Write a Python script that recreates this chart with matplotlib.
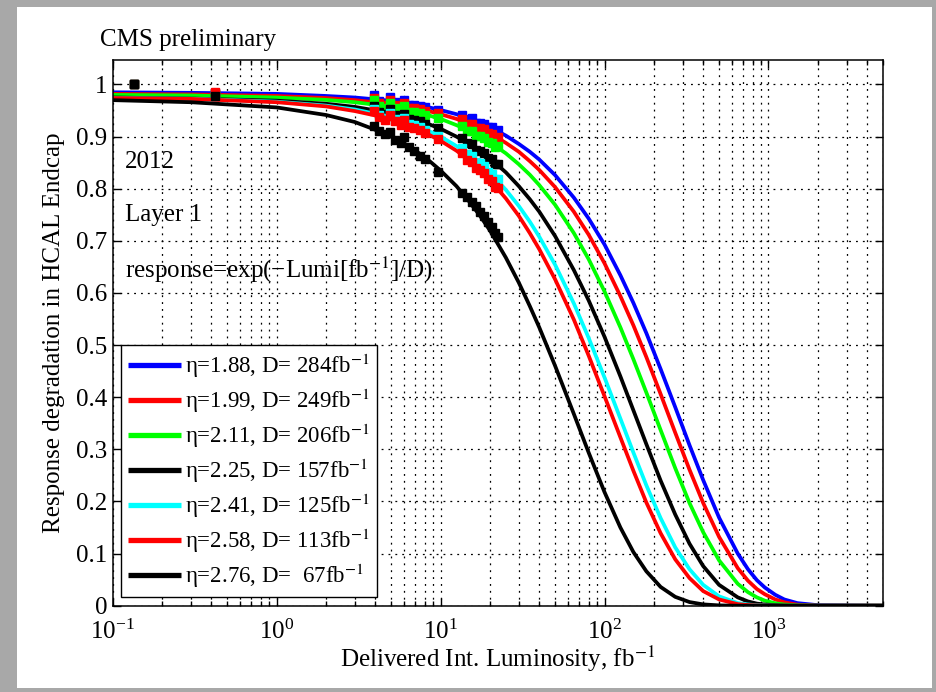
import matplotlib
matplotlib.use("Agg")
import matplotlib.pyplot as plt
from matplotlib.patches import Rectangle
from matplotlib.ticker import LogLocator, FixedLocator, FuncFormatter

plt.rcParams['font.family'] = ['Liberation Serif', 'DejaVu Serif']
plt.rcParams['mathtext.fontset'] = 'stix'
plt.rcParams['font.size'] = 18

# fit curves at these luminosities (fb^-1)
FIT_LUMI = [0.1, 0.3, 1, 2, 3, 4.5, 6, 8, 10, 12.5, 15, 17.5, 20, 25, 30, 35, 40, 50, 65, 80,
            100, 125, 150, 180, 220, 270, 330, 400, 500, 650, 750, 850, 950, 1100, 1250, 1500, 2000, 5000]

FIT_188 = [0.985, 0.984, 0.982, 0.978, 0.975, 0.970, 0.964, 0.958, 0.951, 0.943, 0.934, 0.926, 0.918, 0.902,
           0.886, 0.871, 0.856, 0.826, 0.783, 0.743, 0.693, 0.634, 0.581, 0.523, 0.454, 0.381, 0.308, 0.241,
           0.169, 0.100, 0.070, 0.049, 0.035, 0.021, 0.012, 0.005, 0.001, 0.0]
FIT_199 = [0.982, 0.981, 0.978, 0.974, 0.970, 0.964, 0.959, 0.951, 0.943, 0.934, 0.925, 0.915, 0.906, 0.888,
           0.871, 0.853, 0.836, 0.803, 0.756, 0.712, 0.657, 0.594, 0.538, 0.477, 0.406, 0.332, 0.261, 0.197,
           0.132, 0.072, 0.048, 0.032, 0.022, 0.012, 0.0065, 0.002, 0.0, 0.0]
FIT_211 = [0.980, 0.979, 0.975, 0.9705, 0.966, 0.959, 0.952, 0.943, 0.934, 0.922, 0.911, 0.900, 0.889, 0.868,
           0.847, 0.827, 0.807, 0.769, 0.715, 0.665, 0.603, 0.534, 0.473, 0.409, 0.337, 0.264, 0.197, 0.141,
           0.087, 0.042, 0.026, 0.016, 0.0097, 0.0047, 0.0023, 0.0007, 0.0, 0.0]
FIT_225 = [0.975, 0.973, 0.969, 0.963, 0.957, 0.9475, 0.938, 0.927, 0.915, 0.900, 0.886, 0.872, 0.858, 0.8315,
           0.805, 0.780, 0.756, 0.709, 0.644, 0.586, 0.516, 0.440, 0.375, 0.310, 0.240, 0.175, 0.119, 0.076,
           0.040, 0.016, 0.0082, 0.004, 0.0023, 0.001, 0.0003, 0.0, 0.0, 0.0]
FIT_241 = [0.974, 0.9727, 0.967, 0.9595, 0.952, 0.9405, 0.929, 0.9146, 0.900, 0.882, 0.865, 0.848, 0.831, 0.798,
           0.767, 0.737, 0.708, 0.654, 0.580, 0.514, 0.438, 0.359, 0.294, 0.231, 0.168, 0.112, 0.070, 0.040,
           0.018, 0.005, 0.0024, 0.001, 0.0005, 0.0, 0.0, 0.0, 0.0, 0.0]
FIT_258 = [0.974, 0.9724, 0.966, 0.958, 0.949, 0.937, 0.925, 0.908, 0.892, 0.873, 0.854, 0.835, 0.817, 0.7815,
           0.748, 0.715, 0.684, 0.626, 0.549, 0.480, 0.402, 0.323, 0.259, 0.198, 0.139, 0.089, 0.053, 0.028,
           0.012, 0.003, 0.0013, 0.0005, 0.0002, 0.0, 0.0, 0.0, 0.0, 0.0]
FIT_276 = [0.970, 0.966, 0.956, 0.9415, 0.928, 0.907, 0.887, 0.861, 0.835, 0.805, 0.775, 0.747, 0.720, 0.668,
           0.620, 0.575, 0.534, 0.460, 0.368, 0.294, 0.218, 0.150, 0.103, 0.066, 0.036, 0.017, 0.007, 0.0025,
           0.0006, 0.0, 0.0, 0.0, 0.0, 0.0, 0.0, 0.0, 0.0, 0.0]

# measured points
DATA_LUMI = [0.135, 0.42, 3.9, 4.2, 4.6, 4.9, 5.3, 5.7, 6.0, 6.4, 6.9, 7.5, 8.0, 9.7,
             13.5, 14.5, 15.5, 16.5, 17.5, 18.5, 19.5, 20.5, 21.5, 22.3]

DATA_188 = [1.0, 0.983, 0.980, 0.969, 0.965, 0.976, 0.966, 0.961, 0.970, 0.961, 0.960, 0.959, 0.956, 0.952,
            0.942, 0.934, 0.935, 0.927, 0.927, 0.925, 0.918, 0.918, 0.911, 0.913]
DATA_199 = [1.0, 0.985, 0.975, 0.964, 0.960, 0.971, 0.960, 0.956, 0.965, 0.955, 0.954, 0.953, 0.949, 0.945,
            0.933, 0.924, 0.925, 0.916, 0.916, 0.914, 0.906, 0.905, 0.898, 0.900]
DATA_211 = [1.0, 0.982, 0.970, 0.958, 0.954, 0.965, 0.954, 0.949, 0.958, 0.948, 0.947, 0.945, 0.941, 0.935,
            0.921, 0.911, 0.911, 0.902, 0.901, 0.898, 0.890, 0.888, 0.880, 0.882]
DATA_225 = [1.0, 0.980, 0.959, 0.947, 0.943, 0.953, 0.942, 0.936, 0.944, 0.934, 0.932, 0.930, 0.925, 0.917,
            0.898, 0.887, 0.885, 0.875, 0.873, 0.869, 0.859, 0.857, 0.847, 0.848]
DATA_241 = [1.0, 0.979, 0.953, 0.941, 0.936, 0.946, 0.934, 0.928, 0.935, 0.924, 0.922, 0.918, 0.913, 0.902,
            0.878, 0.866, 0.863, 0.851, 0.849, 0.843, 0.832, 0.829, 0.818, 0.818]
DATA_258 = [1.0, 0.983, 0.950, 0.937, 0.932, 0.942, 0.929, 0.923, 0.931, 0.919, 0.916, 0.912, 0.906, 0.895,
            0.868, 0.856, 0.852, 0.840, 0.836, 0.830, 0.819, 0.814, 0.803, 0.802]
DATA_276 = [1.0, 0.978, 0.921, 0.910, 0.905, 0.908, 0.893, 0.888, 0.900, 0.880, 0.872, 0.862, 0.858, 0.832,
            0.792, 0.784, 0.774, 0.766, 0.755, 0.748, 0.737, 0.726, 0.716, 0.708]

ETA = ['1.88', '1.99', '2.11', '2.25', '2.41', '2.58', '2.76']
D_VALUES = [' 284', ' 249', ' 206', ' 157', ' 125', ' 113', '  67']
COLORS = ['#0000ff', '#ff0000', '#00ff00', '#000000', '#00ffff', '#ff0000', '#000000']

FITS = [FIT_188, FIT_199, FIT_211, FIT_225, FIT_241, FIT_258, FIT_276]
DATAS = [DATA_188, DATA_199, DATA_211, DATA_225, DATA_241, DATA_258, DATA_276]

fig = plt.figure(figsize=(9.36, 6.92), dpi=100, facecolor='#a8a8a8')
fig.patches.append(Rectangle((0.018, 0.006), 0.978, 0.984, transform=fig.transFigure,
                             facecolor='white', edgecolor='none', zorder=-10))
ax = fig.add_axes([0.1204, 0.1247, 0.823, 0.7886])
ax.set_zorder(5)

handles = []
for fit, data, col, eta, d in zip(FITS, DATAS, COLORS, ETA, D_VALUES):
    h, = ax.plot(FIT_LUMI, fit, color=col, lw=2.7, solid_capstyle='butt',
                 label='η=%s, D=%sfb$^{-1}$' % (eta, d))
    ax.plot(DATA_LUMI, data, 's', color=col, ms=5.5, mec=col)
    handles.append(h)

ax.set_xscale('log')
ax.set_xlim(0.1, 5000)
ax.set_ylim(0, 1.047)
ax.yaxis.set_major_locator(FixedLocator([i / 10 for i in range(11)]))
ax.yaxis.set_major_formatter(FuncFormatter(lambda v, p: '%g' % round(v, 1)))
ax.xaxis.set_major_locator(LogLocator(base=10))
ax.xaxis.set_minor_locator(LogLocator(base=10, subs=range(2, 10)))

ax.grid(True, which='major', axis='both', color='black', ls=(0, (1.5, 4)), lw=0.9)
ax.grid(True, which='minor', axis='x', color='black', ls=(0, (1.5, 4)), lw=0.9)
ax.tick_params(which='both', direction='in', top=True, right=True, width=1)
ax.tick_params(which='major', length=6)
ax.tick_params(which='minor', length=3.5)
ax.tick_params(axis='x', which='major', pad=10)
ax.tick_params(axis='y', which='major', pad=4)
for s in ax.spines.values():
    s.set_linewidth(1.1)

ax.set_xlabel('Delivered Int. Luminosity, fb$^{-1}$', labelpad=0)
ax.set_ylabel('Response degradation in HCAL Endcap', labelpad=8)

ax.text(0.016, 0.813, '2012', transform=ax.transAxes, va='center')
ax.text(0.016, 0.716, 'Layer 1', transform=ax.transAxes, va='center')
ax.text(0.016, 0.615, 'response=exp(−Lumi[fb$^{-1}$]/D)', transform=ax.transAxes, va='center')
fig.text(0.107, 0.942, 'CMS preliminary', va='center')

leg = ax.legend(handles=handles, loc='lower left', bbox_to_anchor=(0.011, 0.016),
                fancybox=False, framealpha=1, edgecolor='black', borderaxespad=0,
                fontsize=16.5, handlelength=2.3, handletextpad=0.2, labelspacing=0.3,
                borderpad=0.3)
leg.get_frame().set_linewidth(1.0)
for line in leg.get_lines():
    line.set_linewidth(3.8)

fig.savefig('out.png', dpi=100, facecolor=fig.get_facecolor())
